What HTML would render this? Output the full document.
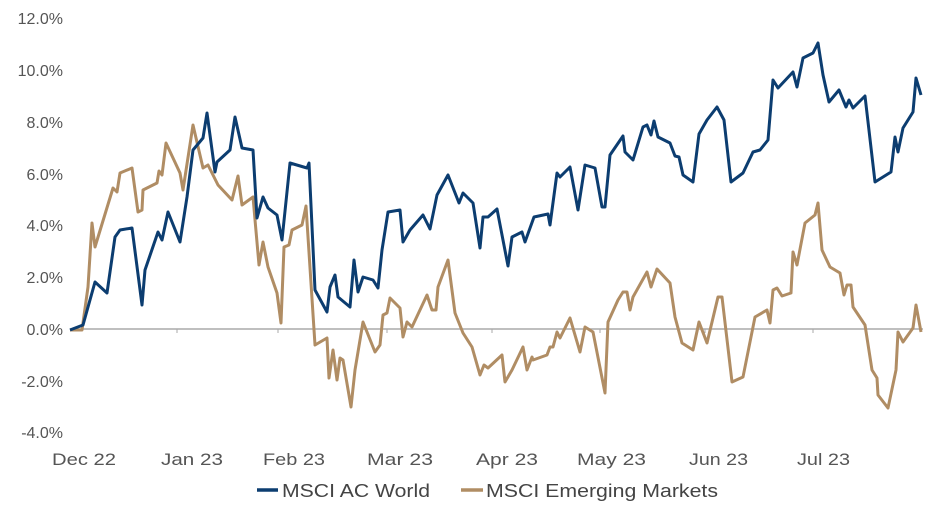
<!DOCTYPE html>
<html><head><meta charset="utf-8"><style>
html,body{margin:0;padding:0;background:#fff;}
svg{display:block;font-family:"Liberation Sans",sans-serif;}
</style></head><body>
<svg width="940" height="506" viewBox="0 0 940 506">
<g font-size="16" fill="#555" text-anchor="end">
<text x="63" y="24">12.0%</text>
<text x="63" y="76">10.0%</text>
<text x="63" y="128">8.0%</text>
<text x="63" y="180">6.0%</text>
<text x="63" y="231">4.0%</text>
<text x="63" y="283">2.0%</text>
<text x="63" y="335">0.0%</text>
<text x="63" y="387">-2.0%</text>
<text x="63" y="438">-4.0%</text>
</g>
<g font-size="17" fill="#555" lengthAdjust="spacingAndGlyphs">
<text x="52" y="465" textLength="64" lengthAdjust="spacingAndGlyphs">Dec 22</text>
<text x="161" y="465" textLength="62" lengthAdjust="spacingAndGlyphs">Jan 23</text>
<text x="263" y="465" textLength="62" lengthAdjust="spacingAndGlyphs">Feb 23</text>
<text x="367" y="465" textLength="66" lengthAdjust="spacingAndGlyphs">Mar 23</text>
<text x="476" y="465" textLength="62" lengthAdjust="spacingAndGlyphs">Apr 23</text>
<text x="577" y="465" textLength="69" lengthAdjust="spacingAndGlyphs">May 23</text>
<text x="689" y="465" textLength="59" lengthAdjust="spacingAndGlyphs">Jun 23</text>
<text x="797" y="465" textLength="53" lengthAdjust="spacingAndGlyphs">Jul 23</text>
</g>
<line x1="70" y1="329" x2="923" y2="329" stroke="#aaa" stroke-width="1.5"/>
<g stroke="#aaa" stroke-width="1">
<line x1="177" y1="329" x2="177" y2="333"/><line x1="278" y1="329" x2="278" y2="333"/>
<line x1="387" y1="329" x2="387" y2="333"/><line x1="492" y1="329" x2="492" y2="333"/>
<line x1="600" y1="329" x2="600" y2="333"/><line x1="705" y1="329" x2="705" y2="333"/>
<line x1="813" y1="329" x2="813" y2="333"/>
</g>
<polyline fill="none" stroke="#b08d64" stroke-width="3" stroke-linejoin="round" points="70,330 82,330 88,287 92,223 95,247 113,188 117,192 120,173 132,168 138,212 142,210 143,190 157,183 159,171 162,175 166,143 180,173 183,190 193,125 203,168 208,165 218,185 232,200 238,176 242,205 253,197 259,265 263,242 268,267 277,293 281,323 284,247 289,245 292,230 302,225 306,206 315,345 327,338 329,378 333,350 337,380 340,358 343,360 351,407 355,370 363,322 375,352 380,345 383,315 387,313 390,298 400,308 403,337 407,322 412,327 427,295 432,310 436,310 438,287 448,260 455,313 463,333 472,347 480,375 484,365 488,368 502,355 505,382 512,370 523,347 527,370 532,357 533,360 547,355 550,347 553,347 557,332 560,338 570,318 580,352 585,327 593,332 605,393 608,322 618,300 623,292 627,292 630,310 633,297 647,272 651,287 657,269 670,283 675,317 682,343 693,350 699,322 707,343 718,297 722,297 732,382 743,377 755,317 767,310 770,323 773,290 777,288 782,296 791,293 793,252 797,265 805,223 815,215 818,203 822,250 830,267 840,273 844,295 847,285 851,285 853,307 865,325 872,370 877,378 878,395 888,408 896,370 898,332 903,342 913,328 916,305 921,332"/>
<polyline fill="none" stroke="#0c3d70" stroke-width="3" stroke-linejoin="round" points="70,330 83,325 95,282 107,293 115,237 120,230 132,228 142,305 145,270 158,232 162,240 168,212 180,242 187,197 193,150 203,138 207,113 215,172 217,162 230,150 235,117 242,148 253,150 257,218 263,197 268,208 277,215 282,240 290,163 307,168 309,163 315,290 327,312 330,287 335,275 338,297 350,307 354,260 358,292 363,277 373,280 378,288 382,250 388,212 400,210 403,242 410,230 423,215 430,229 437,195 448,175 459,203 463,193 473,203 480,248 483,217 488,217 497,209 508,266 512,237 522,232 525,242 534,217 548,214 550,225 557,173 560,177 570,167 578,210 585,165 595,168 602,207 605,207 610,155 623,136 625,152 633,160 643,127 647,125 651,135 654,121 658,137 670,143 675,156 679,157 683,175 693,182 699,134 707,120 717,107 724,120 731,182 743,173 753,152 760,150 768,140 773,80 778,88 793,72 797,87 803,58 813,53 818,43 823,75 829,102 839,90 846,107 849,100 853,108 865,96 875,182 891,172 895,137 898,152 903,128 913,112 916,78 921,95"/>
<line x1="257" y1="490" x2="278" y2="490" stroke="#0c3d70" stroke-width="3.5"/>
<text x="282" y="497" font-size="18" fill="#444" textLength="148" lengthAdjust="spacingAndGlyphs">MSCI AC World</text>
<line x1="461" y1="490" x2="483" y2="490" stroke="#b08d64" stroke-width="3.5"/>
<text x="486" y="497" font-size="18" fill="#444" textLength="232" lengthAdjust="spacingAndGlyphs">MSCI Emerging Markets</text>
</svg>
</body></html>
